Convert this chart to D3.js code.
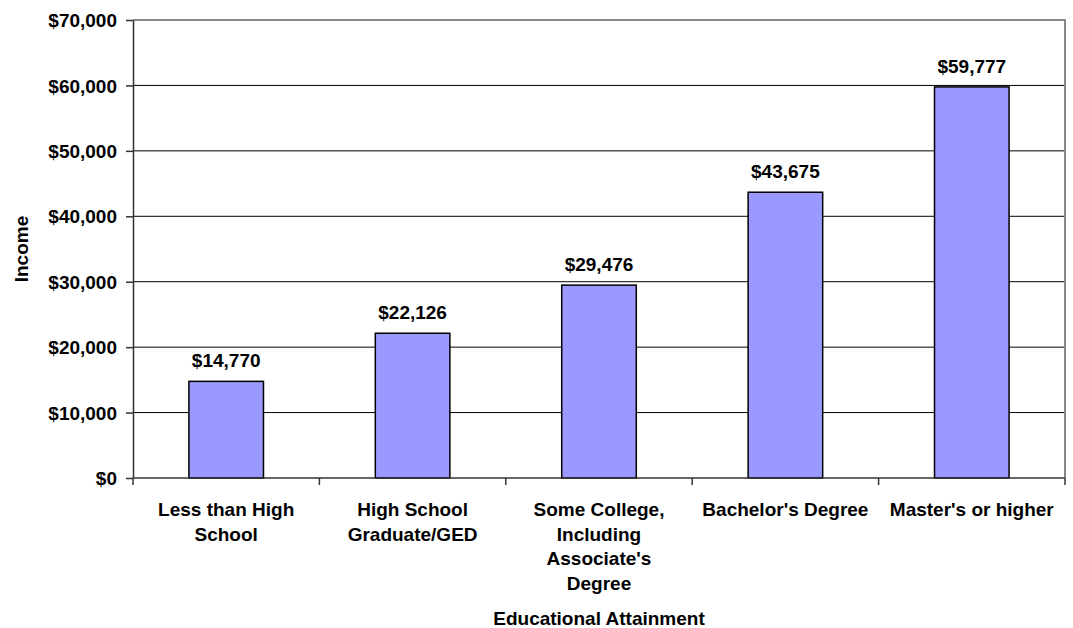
<!DOCTYPE html>
<html lang="en">
  <head>
    <meta charset="UTF-8">
    <title>Income by Educational Attainment</title>
    <style>
      body { margin: 0; background: #fff; }
      svg text {
        font-family: "Liberation Sans", Arial, sans-serif;
        font-weight: bold;
        font-size: 19px;
        fill: #000;
      }
      .bar { fill: #9999ff; stroke: #000; stroke-width: 1.5; }
      .grid line { stroke: #000; stroke-width: 1; }
      .axis path, .axis line { stroke: #333; stroke-width: 1.5; }
    </style>
    <script src="https://d3js.org/d3.v7.min.js"></script>
  </head>
  <body>
    <script>
      // values
      const categories = [
        "Less than High School",
        "High School Graduate/GED",
        "Some College, Including Associate's Degree",
        "Bachelor's Degree",
        "Master's or higher"
      ];
      const incomes = [14770, 22126, 29476, 43675, 59777];
      const yTicks = [0, 10000, 20000, 30000, 40000, 50000, 60000, 70000];

      const W = 1073, H = 628;
      const margin = { top: 20, right: 8, bottom: 150, left: 133 };
      const width = W - margin.left - margin.right;
      const height = H - margin.top - margin.bottom;

      const svg = d3.select("body").append("svg")
        .attr("width", W)
        .attr("height", H);

      const g = svg.append("g")
        .attr("transform", `translate(${margin.left},${margin.top})`);

      const x = d3.scaleBand()
        .domain(categories)
        .range([0, width])
        .paddingInner(0.6)
        .paddingOuter(0.3);

      const y = d3.scaleLinear()
        .domain([0, 70000])
        .range([height, 0]);

      const fmt = d => "$" + d3.format(",")(d);

      // gridlines
      g.append("g")
        .attr("class", "grid")
        .selectAll("line")
        .data(yTicks.slice(1, -1))
        .join("line")
        .attr("x1", 0)
        .attr("x2", width)
        .attr("y1", d => y(d))
        .attr("y2", d => y(d));

      // top and right frame
      g.append("path")
        .attr("d", `M0,0H${width}V${height}`)
        .attr("fill", "none")
        .attr("stroke", "#888")
        .attr("stroke-width", 2);

      // bars
      g.selectAll(".bar")
        .data(incomes)
        .join("rect")
        .attr("class", "bar")
        .attr("x", (d, i) => x(categories[i]))
        .attr("width", x.bandwidth())
        .attr("y", d => y(d))
        .attr("height", d => height - y(d));

      // value labels
      g.selectAll(".value")
        .data(incomes)
        .join("text")
        .attr("class", "value")
        .attr("text-anchor", "middle")
        .attr("x", (d, i) => x(categories[i]) + x.bandwidth() / 2)
        .attr("y", d => y(d) - 14)
        .text(fmt);

      // y axis
      const yAxis = g.append("g")
        .attr("class", "axis")
        .call(d3.axisLeft(y).tickValues(yTicks).tickFormat(fmt).tickSize(7).tickSizeOuter(0));
      yAxis.selectAll("text")
        .attr("x", -16)
        .attr("dy", "0.35em");
      yAxis.attr("font-size", null).attr("font-family", null);

      // x axis: ticks between categories
      const step = x.step();
      const xAxis = g.append("g")
        .attr("class", "axis")
        .attr("transform", `translate(0,${height})`);
      xAxis.append("path").attr("d", `M0,0H${width}`);
      xAxis.selectAll("line")
        .data(d3.range(categories.length + 1))
        .join("line")
        .attr("x1", i => i * step)
        .attr("x2", i => i * step)
        .attr("y1", 0)
        .attr("y2", 7);

      // category labels, wrapped
      const labels = xAxis.selectAll(".cat")
        .data(categories)
        .join("text")
        .attr("class", "cat")
        .attr("text-anchor", "middle")
        .attr("x", d => x(d) + x.bandwidth() / 2)
        .attr("y", 38);

      labels.each(function(d) {
        const t = d3.select(this);
        const cx = t.attr("x");
        const words = d.split(" ");
        let line = [];
        let tspan = t.append("tspan").attr("x", cx).attr("dy", 0);
        words.forEach(w => {
          line.push(w);
          tspan.text(line.join(" "));
          if (tspan.node().getComputedTextLength() > 170 && line.length > 1) {
            line.pop();
            tspan.text(line.join(" "));
            line = [w];
            tspan = t.append("tspan").attr("x", cx).attr("dy", 24.5).text(w);
          }
        });
      });

      // axis titles
      svg.append("text")
        .attr("text-anchor", "middle")
        .attr("x", margin.left + width / 2)
        .attr("y", 625)
        .text("Educational Attainment");

      svg.append("text")
        .attr("text-anchor", "middle")
        .attr("transform", `translate(28,${margin.top + height / 2}) rotate(-90)`)
        .text("Income");
    </script>
  </body>
</html>
